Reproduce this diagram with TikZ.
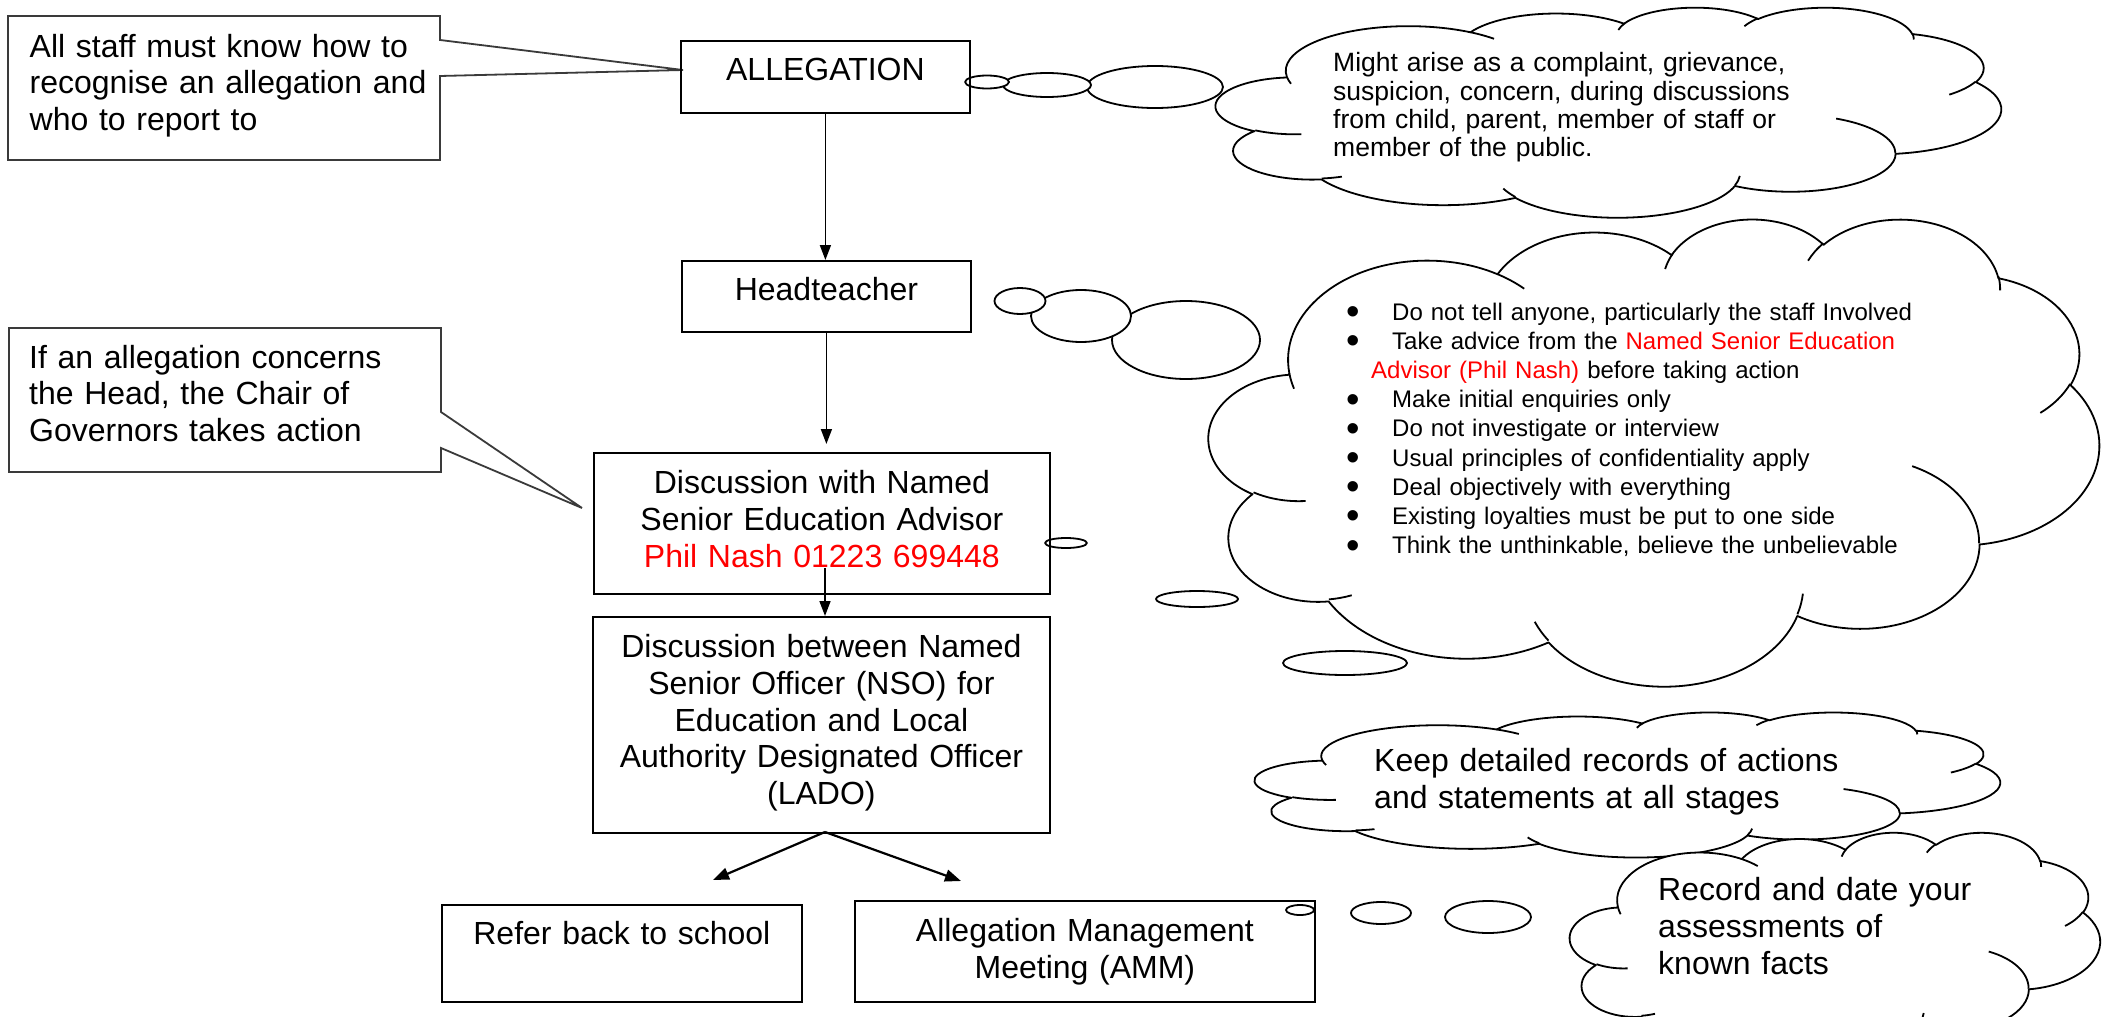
\documentclass[tikz,border=0pt]{standalone}
\usepackage{fontspec}
\setmainfont{Liberation Sans}
\usetikzlibrary{arrows.meta}
\definecolor{calloutgray}{HTML}{3A3A3A}
\newcommand\bxfont{\fontsize{32}{36.8}\selectfont}
\newcommand\bulitem{\makebox[46pt][l]{\raisebox{-4.5pt}{\scalebox{1.6}{•}}}}
\tikzset{
  oa/.code n args={4}{%
    \pgfmathsetmacro\oaS{atan2((#1)*sin(#3),(#2)*cos(#3))}%
    \pgfmathsetmacro\oaE{atan2((#1)*sin(#3+#4),(#2)*cos(#3+#4))}%
    \pgfmathsetmacro\oaD{mod(\oaE-\oaS+720,360)}%
    \edef\oaTmp{x radius=#1, y radius=#2, start angle=\oaS, delta angle=\oaD}%
    \expandafter\tikzset\expandafter{\oaTmp}},
  cloudline/.style={line width=1.8pt, draw=black, line join=round},
  box/.style={draw=black, line width=1.8pt, anchor=north west, inner sep=0pt, align=center, font=\bxfont},
  ctext/.style={anchor=base west, inner sep=0pt, text width=420pt, align=left, font=\bxfont},
  callout/.style={draw=calloutgray, line width=1.8pt, line join=miter},
  arr/.style={-{Triangle[length=15pt,width=11pt]}, line width=1.6pt},
  arrb/.style={-{Triangle[length=16pt,width=12pt]}, line width=2.2pt}
}
\newcommand\drawcloud[4]{%
  \begin{scope}[shift={(#1,#2)}]
  \begin{scope}[x=1pt,y=1pt,xscale=#3/432,yscale=-#4/432]
    \filldraw[cloudline,fill=white] (39.00,143.70)
      arc[oa={67.53}{91.90}{-190.487483}{123.780533}]
      arc[oa={53.33}{72.67}{-144.102383}{89.945233}]
      arc[oa={43.65}{59.45}{-145.807917}{99.723017}]
      arc[oa={48.57}{65.95}{-130.986067}{117.241733}]
      arc[oa={53.33}{72.73}{-78.708883}{109.026917}]
      arc[oa={67.75}{92.20}{-46.26725}{130.269}]
      arc[oa={57.85}{78.67}{0.625017}{114.033333}]
      arc[oa={67.52}{92.15}{22.4516}{115.17255}]
      arc[oa={77.20}{105.43}{66.242633}{75.711017}]
      arc[oa={43.60}{59.18}{-274.942083}{146.735567}]
      arc[oa={43.45}{59.45}{-246.8285}{152.51885}]
      -- cycle;
    \draw[cloudline]
      (46.93,261.77) arc[oa={43.45}{59.45}{86.742}{26.4295}]
      (69.28,348.99) arc[oa={43.60}{59.18}{73.610467}{11.447467}]
      (164.78,390.90) arc[oa={67.52}{92.15}{137.62415}{14.0811}]
      (288.27,347.51) arc[oa={67.52}{92.15}{6.453267}{15.99835}]
      (341.29,229.54) arc[oa={57.85}{78.67}{-70.29235}{70.917367}]
      (417.98,153.54) arc[oa={53.33}{72.73}{30.318033}{27.7515}]
      (383.24,54.26) arc[oa={48.57}{65.95}{-13.744333}{14.8589}]
      (290.78,39.52) arc[oa={48.57}{65.95}{-149.18145}{18.195367}]
      (221.41,47.20) arc[oa={43.65}{59.45}{-163.494267}{17.696417}]
      (140.00,51.92) arc[oa={67.53}{91.90}{-66.70695}{12.31935}]
      (41.27,157.89) arc[oa={67.53}{91.90}{157.65435}{11.858167}];
  \end{scope}
  \end{scope}}
\begin{document}
\begin{tikzpicture}[x=1pt,y=-1pt]
\useasboundingbox[fill=white] (0,0) rectangle (2107,1017);

% ---- clouds and their bubble tails
\drawcloud{1216}{7}{785}{210}
\filldraw[cloudline,fill=white] (1155,87) ellipse [x radius=68, y radius=21];
\filldraw[cloudline,fill=white] (1047,85) ellipse [x radius=44, y radius=12];
\filldraw[cloudline,fill=white] (987,82) ellipse [x radius=22, y radius=6.5];

\drawcloud{1209}{218}{890}{467}
\filldraw[cloudline,fill=white] (1186,340) ellipse [x radius=74, y radius=39];
\filldraw[cloudline,fill=white] (1081,316) ellipse [x radius=50, y radius=26];
\filldraw[cloudline,fill=white] (1020,301) ellipse [x radius=25.5, y radius=13];

\drawcloud{1255}{712}{745}{145}
\drawcloud{1570}{832}{530}{225}
\filldraw[cloudline,fill=white] (1345,663) ellipse [x radius=62, y radius=12];
\filldraw[cloudline,fill=white] (1197,599) ellipse [x radius=41, y radius=8];
\filldraw[cloudline,fill=white] (1066,543) ellipse [x radius=21, y radius=5];
\filldraw[cloudline,fill=white] (1488,917) ellipse [x radius=43, y radius=16];
\filldraw[cloudline,fill=white] (1381,913) ellipse [x radius=30, y radius=11];
\filldraw[cloudline,fill=white] (1300,910) ellipse [x radius=14, y radius=5];

% ---- cloud texts
\node[anchor=base west, inner sep=0pt, text width=600pt, align=left,
      font=\fontsize{26.5}{28.3}\selectfont] (t1) at (1333,71.7)
  {Might arise as a complaint, grievance,\\suspicion, concern, during discussions\\from child, parent, member of staff or\\member of the public.};
\node[anchor=base west, inner sep=0pt, text width=700pt, align=left,
      font=\fontsize{24}{29.2}\selectfont] (t2) at (1346,320)
  {\bulitem Do not tell anyone, particularly the staff Involved\\
   \bulitem Take advice from the \textcolor{red}{Named Senior Education}\\
   \hspace*{25pt}\textcolor{red}{Advisor (Phil Nash)} before taking action\\
   \bulitem Make initial enquiries only\\
   \bulitem Do not investigate or interview\\
   \bulitem Usual principles of confidentiality apply\\
   \bulitem Deal objectively with everything\\
   \bulitem Existing loyalties must be put to one side\\
   \bulitem Think the unthinkable, believe the unbelievable};
\node[anchor=base west, inner sep=0pt, text width=600pt, align=left, font=\bxfont] (t3) at (1374,771.5)
  {Keep detailed records of actions\\and statements at all stages};
\node[anchor=base west, inner sep=0pt, text width=420pt, align=left, font=\bxfont] (t4) at (1658,900.5)
  {Record and date your\\assessments of\\known facts};

% ---- callouts
\coordinate (tip1) at (683,70);
\coordinate (tip2) at (582,508);
\draw[callout] (8,16) -- (440,16) -- (440,40) -- (tip1) -- (440,76) -- (440,160) -- (8,160) -- cycle;
\node[ctext] (c1) at (29.5,57) {All staff must know how to\\recognise an allegation and\\who to report to};
\draw[callout] (9,328) -- (441,328) -- (441,412) -- (tip2) -- (441,448) -- (441,472) -- (9,472) -- cycle;
\node[ctext] (c2) at (29,368) {If an allegation concerns\\the Head, the Chair of\\Governors takes action};

% ---- flow boxes
\node[box, text width=289pt, text height=40pt, text depth=32pt] (alleg) at (680,40) {ALLEGATION};
\node[box, text width=289pt, text height=40pt, text depth=31pt] (head) at (681,260) {Headteacher};
\node[box, text width=456pt, text height=41pt, text depth=100pt] (disc) at (593,452)
  {Discussion with Named\\Senior Education Advisor\\\textcolor{red}{Phil Nash 01223 699448}};
\node[box, text width=457pt, text height=40.5pt, text depth=175.5pt] (nso) at (592,616)
  {Discussion between Named\\Senior Officer (NSO) for\\Education and Local\\Authority Designated Officer\\(LADO)};
\node[box, text width=360pt, text height=40pt, text depth=57pt] (refer) at (441,904) {Refer back to school};
\node[box, text width=460pt, text height=41pt, text depth=60pt] (amm) at (854,900) {Allegation Management\\Meeting (AMM)};

% ---- arrows
\draw[arr] (alleg.south) -- (alleg.south |- head.north);
\draw[arr, shorten >=8pt] (head.south) -- (head.south |- disc.north);
\coordinate (d2) at (825,568);
\draw[arr] (d2) -- (d2 |- nso.north);
\coordinate (split) at (825,832);
\coordinate (tipL) at (713,880);
\coordinate (tipR) at (961,881);
\draw[arrb] (split) -- (tipL);
\draw[arrb] (split) -- (tipR);
\end{tikzpicture}
\end{document}
